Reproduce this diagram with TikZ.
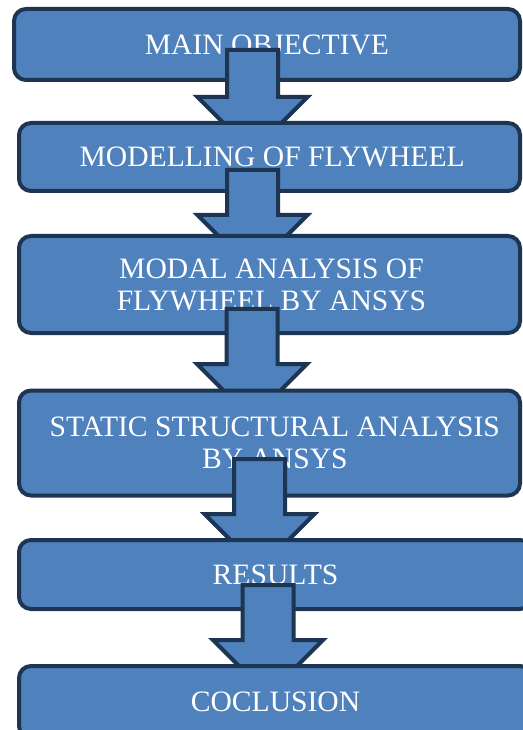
\documentclass[tikz,border=0pt]{standalone}
\usepackage{fontspec}
\setmainfont{Liberation Serif}
\definecolor{boxfill}{HTML}{4F81BD}
\definecolor{boxline}{HTML}{1E3552}
\tikzset{
  stagebox/.style={draw=boxline, fill=boxfill, line width=3pt, rounded corners=9pt,
    text=white, align=center, inner sep=0pt,
    font=\fontsize{22.2}{24}\selectfont},
  arrowshape/.style={draw=boxline, fill=boxfill, line width=3pt, miter limit=10},
}
% block arrow: name, centre x, top of shaft, top of head (pixel units)
\newcommand\flowarrow[4]{%
  \coordinate (#1) at (#2,#3);
  \draw[arrowshape] ({#2-25.5},{#3+2}) -- ({#2+25.5},{#3+2}) -- ({#2+25.5},{#4+2})
    -- ({#2+55},{#4+2}) -- (#2,{#4+57}) -- ({#2-55},{#4+2}) -- ({#2-25.5},{#4+2}) -- cycle;
}
\begin{document}
\begin{tikzpicture}[x=0.75pt,y=-0.75pt]
  \fill[white] (0,0) rectangle (523,730);
  \useasboundingbox (0,0) rectangle (523,730);

  \node[stagebox, minimum width=379.5pt, minimum height=53.25pt] (objective) at (267,44.5) {MAIN OBJECTIVE};
  \flowarrow{a1}{252.5}{48}{95}
  \node[stagebox, minimum width=375.75pt, minimum height=51pt] (modelling) at (269.5,157) {\hspace*{4pt}MODELLING OF FLYWHEEL};
  \flowarrow{a2}{252.5}{168}{213}
  \node[stagebox, minimum width=375.75pt, minimum height=72.75pt] (modal) at (269.5,284.5) {\hspace*{3pt}MODAL ANALYSIS OF\\\hspace*{3pt}FLYWHEEL BY ANSYS};
  \flowarrow{a3}{252}{307}{362}
  \node[stagebox, minimum width=375.75pt, minimum height=78.75pt] (static) at (269.5,443) {\hspace*{8pt}STATIC STRUCTURAL ANALYSIS\\\hspace*{8pt}BY ANSYS};
  \flowarrow{a4}{259.5}{457}{512}
  \node[stagebox, minimum width=384.75pt, minimum height=51.75pt] (results) at (275.5,574.5) {RESULTS};
  \flowarrow{a5}{268}{583}{638}
  \node[stagebox, minimum width=384.75pt, minimum height=54pt] (conclusion) at (275.5,702) {COCLUSION};
\end{tikzpicture}
\end{document}
